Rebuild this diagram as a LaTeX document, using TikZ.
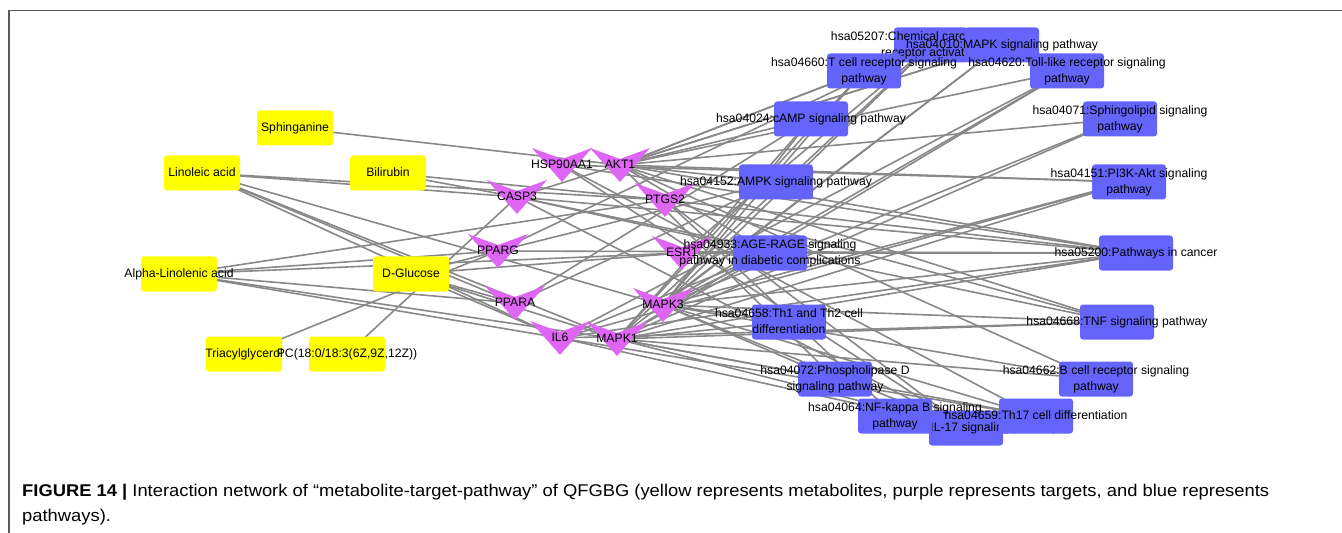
\documentclass[tikz,border=0pt]{standalone}
\usepackage{fontspec}
\setmainfont{Liberation Sans}
\newfontfamily\capfont[FakeStretch=1.08]{Liberation Sans}
\usetikzlibrary{calc}
\definecolor{metyellow}{HTML}{FFFF00}
\definecolor{tgtviolet}{HTML}{DF66F5}
\definecolor{pwblue}{HTML}{6464FA}
\definecolor{linkgray}{HTML}{888888}
\pgfdeclarelayer{links}
\pgfsetlayers{links,main}
\newcommand{\lbl}[1]{\makebox[0pt]{\begin{tabular}{@{}c@{}}#1\end{tabular}}}
\tikzstyle{met}=[rounded corners=3bp, minimum width=76bp, minimum height=35bp, inner sep=0, fill=metyellow]
\tikzstyle{pw}=[rounded corners=3bp, minimum width=74bp, minimum height=35bp, inner sep=0, fill=pwblue]
\tikzstyle{tgt}=[minimum width=60bp, minimum height=34bp, inner sep=0, path picture={
  \fill [tgtviolet] (path picture bounding box.north west) -- ([yshift=-11bp]path picture bounding box.north)
    -- (path picture bounding box.north east) -- (path picture bounding box.south) -- cycle;}]
\tikzstyle{link}=[linkgray, line width=1.6bp]
\tikzstyle{caption}=[anchor=north west, align=left, inner sep=0, font=\capfont\fontsize{17bp}{25bp}\selectfont]

\begin{document}
\begin{tikzpicture}[x=1bp, y=-1bp, every node/.append style={font=\fontsize{12.2bp}{16.5bp}\selectfont}]

\useasboundingbox (0, 0) rectangle (1342, 533);
\draw [black!65, line width=1.2bp] (9, 533) -- (9, 10.5) -- (1342, 10.5);

% metabolites
\node [met] (sphinganine) at (295, 128) {\lbl{Sphinganine}};
\node [met] (linoleic)    at (202, 173) {\lbl{Linoleic acid}};
\node [met] (bilirubin)   at (388, 173) {\lbl{Bilirubin}};
\node [met] (alphalin)    at (179, 274) {\lbl{Alpha-Linolenic acid}};
\node [met] (glucose)     at (411, 274) {\lbl{D-Glucose}};
\node [met] (tag)         at (244, 354) {\lbl{Triacylglycerol}};
\node [met] (pc)          at (347, 354) {\lbl{PC(18:0/18:3(6Z,9Z,12Z))}};

% targets
\node [tgt] (hsp90) at (562, 165) {\lbl{HSP90AA1}};
\node [tgt] (akt1)  at (620, 165) {\lbl{AKT1}};
\node [tgt] (casp3) at (517, 197) {\lbl{CASP3}};
\node [tgt] (ptgs2) at (665, 200) {\lbl{PTGS2}};
\node [tgt] (pparg) at (498, 251) {\lbl{PPARG}};
\node [tgt] (esr1)  at (682, 253) {\lbl{ESR1}};
\node [tgt] (ppara) at (515, 303) {\lbl{PPARA}};
\node [tgt] (mapk3) at (663, 305) {\lbl{MAPK3}};
\node [tgt] (il6)   at (560, 338) {\lbl{IL6}};
\node [tgt] (mapk1) at (617, 339) {\lbl{MAPK1}};

% pathways
\node [pw] (p05207) at (931, 45)   {\lbl{hsa05207:Chemical carcinogenesis -\\receptor activation}};
\node [pw] (p04010) at (1002, 45)  {\lbl{hsa04010:MAPK signaling pathway}};
\node [pw] (p04660) at (864, 71)   {\lbl{hsa04660:T cell receptor signaling\\pathway}};
\node [pw] (p04620) at (1067, 71)  {\lbl{hsa04620:Toll-like receptor signaling\\pathway}};
\node [pw] (p04024) at (811, 119)  {\lbl{hsa04024:cAMP signaling pathway}};
\node [pw] (p04071) at (1120, 119) {\lbl{hsa04071:Sphingolipid signaling\\pathway}};
\node [pw] (p04152) at (776, 182)  {\lbl{hsa04152:AMPK signaling pathway}};
\node [pw] (p04151) at (1129, 182) {\lbl{hsa04151:PI3K-Akt signaling\\pathway}};
\node [pw] (p04933) at (770, 253)  {\lbl{hsa04933:AGE-RAGE signaling\\pathway in diabetic complications}};
\node [pw] (p05200) at (1136, 253) {\lbl{hsa05200:Pathways in cancer}};
\node [pw] (p04658) at (789, 322)  {\lbl{hsa04658:Th1 and Th2 cell\\differentiation}};
\node [pw] (p04668) at (1117, 322) {\lbl{hsa04668:TNF signaling pathway}};
\node [pw] (p04072) at (835, 379)  {\lbl{hsa04072:Phospholipase D\\signaling pathway}};
\node [pw] (p04662) at (1096, 379) {\lbl{hsa04662:B cell receptor signaling\\pathway}};
\node [pw] (p04657) at (966, 428)  {\lbl{hsa04657:IL-17 signaling pathway}};
\node [pw] (p04064) at (895, 416)  {\lbl{hsa04064:NF-kappa B signaling\\pathway}};
\node [pw] (p04659) at (1036, 416) {\lbl{hsa04659:Th17 cell differentiation}};

% links, under the nodes
\begin{pgfonlayer}{links}
\draw [link] (sphinganine.center) -- (akt1.center);
\foreach \t in {casp3, ptgs2, ppara, il6, mapk1, mapk3}
  \draw [link] (linoleic.center) -- (\t.center);
\foreach \t in {casp3, ptgs2}
  \draw [link] (bilirubin.center) -- (\t.center);
\foreach \t in {ptgs2, pparg, ppara, il6, mapk1, esr1}
  \draw [link] (alphalin.center) -- (\t.center);
\foreach \t in {pparg, ppara, mapk1, esr1, il6}
  \draw [link] (glucose.center) -- (\t.center);
\draw [link] (tag.center) -- (pparg.center);
\draw [link] (pc.center) -- (casp3.center);

\foreach \p in {p05207, p04010, p04660, p04620, p04024, p04071, p04152, p04151, p04933, p05200, p04668, p04072, p04662}
  \draw [link] (akt1.center) -- (\p.center);
\foreach \p in {p05207, p04010, p04660, p04620, p04024, p04071, p04151, p04933, p05200, p04658, p04668, p04072, p04662, p04657, p04659}
  \draw [link] (mapk1.center) -- (\p.center);
\foreach \p in {p05207, p04010, p04660, p04620, p04024, p04071, p04151, p04933, p05200, p04658, p04668, p04072, p04662, p04657, p04659}
  \draw [link] (mapk3.center) -- (\p.center);
\foreach \p in {p04620, p04151, p04933, p05200, p04668, p04657, p04659}
  \draw [link] (il6.center) -- (\p.center);
\foreach \p in {p05200, p04668, p04064, p04657}
  \draw [link] (ptgs2.center) -- (\p.center);
\foreach \p in {p04010, p04933, p05200, p04668, p04657}
  \draw [link] (casp3.center) -- (\p.center);
\foreach \p in {p05207, p05200}
  \draw [link] (esr1.center) -- (\p.center);
\foreach \p in {p04151, p05200, p04657, p04659}
  \draw [link] (hsp90.center) -- (\p.center);
\foreach \p in {p04152, p05200, p05207}
  \draw [link] (pparg.center) -- (\p.center);
\foreach \p in {p04152, p04024}
  \draw [link] (ppara.center) -- (\p.center);
\end{pgfonlayer}

\node [caption] (cap) at (22, 484) {\textbf{FIGURE 14 |} Interaction network of “metabolite-target-pathway” of QFGBG (yellow represents metabolites, purple represents targets, and blue represents\\pathways).};

\end{tikzpicture}
\end{document}
